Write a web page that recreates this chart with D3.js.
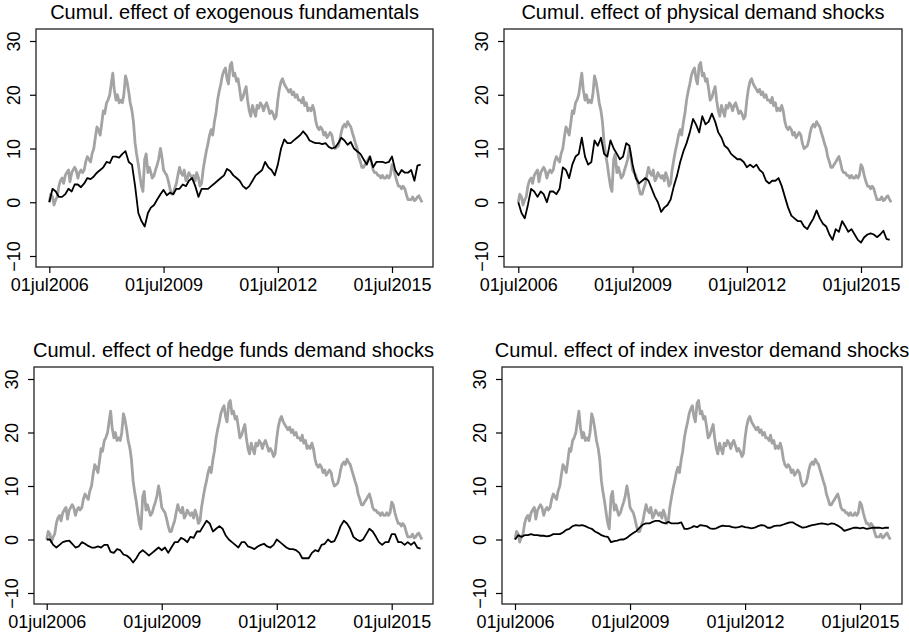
<!DOCTYPE html>
<html>
<head>
<meta charset="utf-8">
<script src="https://cdn.jsdelivr.net/npm/d3@7"></script>
<style>
  body { margin: 0; background: #fff; }
  svg { display: block; font-family: "Liberation Sans", Arial, sans-serif; }
  .tick text { font-size: 18px; fill: #000; }
  .tick line { stroke: #000; stroke-width: 1.2; }
  .title { font-size: 20px; fill: #000; text-anchor: middle; }
</style>
</head>
<body>
<svg id="chart" width="909" height="634"></svg>
<script>
// monthly observations, Jul 2006 .. Apr 2016
const months = d3.timeMonth.range(new Date(2006, 6, 1), new Date(2016, 4, 1));
// the grey series is read twice a month (1st and 15th)
const halfMonths = months.flatMap(function (m) { return [m, d3.timeDay.offset(m, 14)]; });

// tick labels on the time axis
const tickDates = ["2006-07-01", "2009-07-01", "2012-07-01", "2015-07-01"];
const yTicks = [-10, 0, 10, 20, 30];

// grey reference series, same in every panel (two readings per month)
const total = [
  0, 1.5, 1, -0.5, 0.5, 1, 3, 4, 4.5, 3.5, 5, 5.5,
  6, 3.8, 5.5, 6, 6.5, 6, 4.5, 5.5, 6, 5.5, 6, 7.5, 8.5, 8, 7.5, 9, 10, 12, 14, 13.5, 12.5, 14.5, 17, 16.5,
  18.5, 19, 20, 22, 24, 21, 19, 20, 18.5, 19, 18.5, 20, 23.5, 22.5, 20.5, 18.5, 17, 15, 11, 9, 7, 5, 3, 2,
  8, 9, 5.5, 6.5, 5.5, 4.5, 5, 6, 7, 8, 10, 8.5, 6, 5.5, 5, 4, 2.5, 1.5, 1.5, 2.5, 3.5, 5, 6.5, 5.5,
  5, 6, 4, 4.5, 5.5, 5, 4.5, 5, 4, 5.5, 4.5, 3, 3.5, 6, 8, 9.5, 11, 12.5, 13.5, 12.5, 15, 16.5, 19, 20.5,
  22, 23.5, 24.5, 25, 23, 22, 25.5, 26, 23.5, 24, 22.5, 23, 21, 19, 19.5, 20.5, 21.5, 19, 17, 16, 18, 17, 16, 18,
  17.5, 18.5, 18, 17, 18, 18.5, 17.5, 16.5, 17, 16.5, 15.5, 16, 19, 21, 22.5, 23, 22, 21.5, 21, 20.5, 21, 20, 20.5, 19.5,
  20, 19, 19, 18.5, 19.5, 18, 18.5, 17, 17.5, 17, 18, 17, 15, 14, 13.5, 14, 13.5, 12.5, 13, 12, 12.5, 13, 12.5, 11,
  10, 10.2, 10.5, 11.5, 13, 14, 14.5, 14, 15, 14.5, 14, 13, 12, 11, 10, 8.5, 7.5, 6.5, 6.5, 7, 7.5, 8, 8.5, 7.5,
  6, 5.5, 5.5, 5, 5, 4.5, 5, 4.5, 4.5, 5, 4.5, 5, 7, 6.5, 5, 4, 3, 3, 2.5, 3, 2.5, 1.5, 0.5, 0.5,
  0.5, 1, 0.3, 0.5, 1, 1.2, 0.5, 0
];

const fundamentals = [
  0, 2.5, 2, 1, 1, 1.5,
  2.5, 2, 3.3, 3.3, 2.8, 3.5, 4.5, 4.3, 4.8, 5.5, 6, 6.5,
  7.5, 7.3, 8.5, 8.5, 8.3, 9, 9.5, 7.5, 7, 3, -2, -3.5,
  -4.5, -2, -1, -0.5, 0.5, 1.5, 2.3, 1.3, 1.8, 1.5, 2.5, 2.5,
  3.3, 3, 4, 4.5, 3, 1, 2.5, 2.5, 2.5, 3, 3.5, 4,
  4.5, 5, 6.2, 5.8, 5, 4.5, 4, 3, 2.5, 3, 4, 5,
  5.5, 6, 7.5, 6.5, 6, 5, 7, 10, 11.7, 11, 11, 11.5,
  12, 12.5, 13.2, 12.5, 11.5, 11.2, 11, 11, 10.8, 11, 10.3, 10,
  10.2, 11, 12, 11.5, 10.7, 11.2, 10, 9.5, 9, 8, 7, 8.5,
  6.5, 7.5, 7.5, 7.5, 7.3, 7.5, 8.5, 6, 5, 6, 5.5, 5.5,
  6, 4, 6.8, 7
];

const physical = [
  0, -2, -3, -0.5, 2.5, 2,
  1, 2, 1.5, 0, 2, 2, 1.5, 2.5, 6.5, 6, 4.5, 7,
  8.5, 9, 12, 8.5, 7, 7.5, 11.5, 10.5, 12, 9, 8.5, 11.5,
  10, 9, 8, 8.5, 11, 10.5, 7, 4.5, 3.5, 4, 4.5, 4,
  2.5, 1, 0, -1.8, -1, -0.5, 0.5, 3, 5, 7.5, 9.5, 11,
  13, 15.5, 14.5, 13, 16, 14.5, 15, 16.5, 15, 13, 12, 10.5,
  10, 9, 8.5, 8, 8, 7.5, 6.5, 7, 6.5, 7, 6, 5.5,
  4, 3.5, 4, 4, 4.5, 3, 1, -1, -2.5, -3, -3.5, -3.5,
  -4.5, -5, -4, -3, -1.5, -3, -4, -4.5, -6, -7, -5, -5.5,
  -3.5, -4.5, -5.5, -5, -6, -7, -7.5, -6.5, -6, -5.8, -6, -6.5,
  -6, -5.3, -6.8, -7
];

const hedgeFunds = [
  0, 0, -1, -1.5, -1, -0.5,
  -0.3, -0.2, -0.8, -1.5, -1.3, -0.5, -0.8, -1.2, -1.5, -1.5, -1.3, -1.5,
  -1, -1, -2.3, -2.5, -1.8, -2, -2.8, -3, -3.5, -4.3, -3.5, -2.5,
  -2, -2.5, -3, -2.5, -2, -1.5, -2, -1.5, -2.5, -1.5, -0.5, -0.5,
  0.3, 0, -0.5, 0.5, 0.3, 1.5, 1.5, 2.5, 3.5, 3, 1.5, 2,
  2.5, 2, 0.8, 0, -0.5, -1, -1.5, -0.5, -0.5, -1.3, -1.5, -1.8,
  -1.3, -1, -0.8, -1.3, -1.5, -1, 0, -0.5, -1, -1.5, -1.8, -1.8,
  -2, -2.5, -3.5, -3.5, -3.5, -2.5, -2, -2.2, -1, -0.8, 0, -0.5,
  -0.3, 1, 2.5, 3.5, 3, 2, 0.5, 0, -0.3, 0, 1, 2,
  1.5, 0.5, -0.5, -1, -0.5, -0.5, 1, 1, -0.5, -0.5, -1, -0.5,
  -1, -0.5, -1.5, -1.7
];

const indexInvestors = [
  0, 0.8, 0.5, 0.8, 0.8, 1,
  0.8, 0.8, 0.7, 0.7, 0.6, 0.7, 1, 1, 1, 1.3, 1.8, 2,
  2.5, 2.7, 2.6, 2.7, 2.5, 2.2, 2, 1.5, 1.2, 0.8, 0.6, 0.5,
  -0.5, -0.3, -0.2, 0, 0, 0.3, 0.8, 1.2, 1.6, 2.2, 2.8, 3,
  3, 3.3, 3.5, 3.5, 3.2, 3, 3.3, 3, 3, 3, 3.2, 2,
  2, 2.2, 2.5, 2.3, 2.7, 2.6, 2.5, 2.1, 2, 2.1, 2.4, 2.6,
  2.5, 2.5, 2.3, 2.2, 2.3, 2.5, 2.3, 2.2, 2.1, 2.2, 2.5, 2.7,
  2.6, 2.2, 2.2, 2.5, 2.6, 2.6, 2.8, 3, 3.2, 3.2, 2.8, 2.5,
  2.2, 2.3, 2.5, 2.7, 2.8, 2.9, 3, 2.9, 2.8, 3, 2.9, 2.6,
  2.2, 1.6, 1.8, 2, 2.2, 2.2, 2.1, 2.2, 2, 2.1, 2.2, 2.2,
  2.2, 2.1, 2.2, 2.2
];

const titles = [
  "Cumul. effect of exogenous fundamentals",
  "Cumul. effect of physical demand shocks",
  "Cumul. effect of hedge funds demand shocks",
  "Cumul. effect of index investor demand shocks"
];
const shocks = [fundamentals, physical, hedgeFunds, indexInvestors];

// plot box of each panel and where the first/last date tick falls
const panels = [
  { left: 36, right: 433, top: 29, bottom: 267, t0: 49.3, t1: 392 },
  { left: 504, right: 902, top: 29, bottom: 267, t0: 518.3, t1: 861 },
  { left: 34, right: 433, top: 367, bottom: 604, t0: 46.7, t1: 391.7 },
  { left: 502, right: 902, top: 367, bottom: 604, t0: 515, t1: 860 }
];

const svg = d3.select("#chart");
const parse = d3.timeParse("%Y-%m-%d");
const fmt = d3.timeFormat("%d%b%Y");

panels.forEach(function (p, i) {
  const g = svg.append("g");

  const x = d3.scaleTime()
    .domain([parse(tickDates[0]), parse(tickDates[tickDates.length - 1])])
    .range([p.t0, p.t1]);
  // 30 sits 12px under the top of the box, -10 11px above the bottom
  const y = d3.scaleLinear()
    .domain([-10, 30])
    .range([p.bottom - 11, p.top + 12]);

  const greyLine = d3.line()
    .x(function (d, j) { return x(halfMonths[j]); })
    .y(function (d) { return y(d); });
  const line = d3.line()
    .x(function (d, j) { return x(months[j]); })
    .y(function (d) { return y(d); });

  g.append("path")
    .datum(total)
    .attr("d", greyLine)
    .attr("fill", "none")
    .attr("stroke", "#a3a3a3")
    .attr("stroke-width", 2.8)
    .attr("stroke-linejoin", "round");

  g.append("path")
    .datum(shocks[i])
    .attr("d", line)
    .attr("fill", "none")
    .attr("stroke", "#000")
    .attr("stroke-width", 1.8)
    .attr("stroke-linejoin", "round");

  // frame
  g.append("rect")
    .attr("x", p.left)
    .attr("y", p.top)
    .attr("width", p.right - p.left)
    .attr("height", p.bottom - p.top)
    .attr("fill", "none")
    .attr("stroke", "#222")
    .attr("stroke-width", 1.3);

  const xAxis = g.append("g")
    .attr("transform", "translate(0," + p.bottom + ")")
    .call(d3.axisBottom(x)
      .tickValues(tickDates.map(parse))
      .tickSize(6)
      .tickFormat(function (d) { return fmt(d).toLowerCase(); }));
  xAxis.select(".domain").remove();
  xAxis.selectAll("text").attr("y", 24).attr("dy", 0);

  const yAxis = g.append("g")
    .attr("transform", "translate(" + p.left + ",0)")
    .call(d3.axisLeft(y).tickValues(yTicks).tickSize(6));
  yAxis.select(".domain").remove();
  yAxis.selectAll("text")
    .attr("transform", "rotate(-90)")
    .attr("x", 0)
    .attr("y", -16.5)
    .attr("dy", 0)
    .attr("text-anchor", "middle");

  g.append("text")
    .attr("class", "title")
    .attr("x", (p.left + p.right) / 2)
    .attr("y", p.top - 10)
    .text(titles[i]);
});
</script>
</body>
</html>
